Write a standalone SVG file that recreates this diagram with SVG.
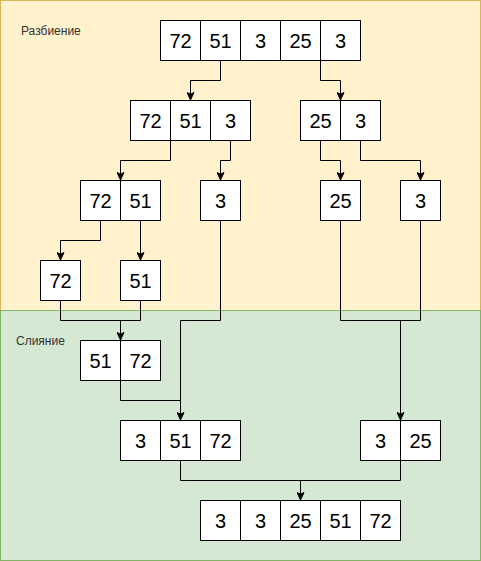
<svg xmlns="http://www.w3.org/2000/svg" width="481" height="561" viewBox="0 0 481 561">
<style>
.c{fill:#ffffff;stroke:#000000;stroke-width:1}
.t{font-family:"Liberation Sans",Arial,sans-serif;font-size:20px;fill:#000000;text-anchor:middle}
.l{font-family:"Liberation Sans",Arial,sans-serif;font-size:12px;fill:#333333}
.e{fill:none;stroke:#000000;stroke-width:1}
</style>
<defs>
<marker id="a" markerWidth="8" markerHeight="9" refX="4" refY="8" orient="0" markerUnits="userSpaceOnUse" viewBox="0 0 8 9">
<path d="M4,8 L0.5,0.5 L4,2.2 L7.5,0.5 Z" fill="#000000" stroke="#000000" stroke-width="1"/>
</marker>
</defs>
<g id="background">
<rect x="0.5" y="0.5" width="480" height="310" fill="#fff2cc" stroke="#d6b656"/>
<rect x="0.5" y="310.5" width="480" height="250" fill="#d5e8d4" stroke="#82b366"/>
<text class="l" x="21" y="35">Разбиение</text>
<text class="l" x="16" y="345">Слияние</text>
</g>
<g id="connectors">
<path class="e" d="M220.5,60 V80.5 H190.5 V100" marker-end="url(#a)"/>
<path class="e" d="M320.5,60 V80.5 H340.5 V100" marker-end="url(#a)"/>
<path class="e" d="M170.5,140 V160.5 H120.5 V180" marker-end="url(#a)"/>
<path class="e" d="M230.5,140 V160.5 H220.5 V180" marker-end="url(#a)"/>
<path class="e" d="M320.5,140 V160.5 H340.5 V180" marker-end="url(#a)"/>
<path class="e" d="M360.5,140 V160.5 H420.5 V180" marker-end="url(#a)"/>
<path class="e" d="M100.5,220 V240.5 H60.5 V260" marker-end="url(#a)"/>
<path class="e" d="M140.5,220 V260" marker-end="url(#a)"/>
<path class="e" d="M60.5,300 V320.5 H120.5 V340" marker-end="url(#a)"/>
<path class="e" d="M140.5,300 V320.5 H120.5"/>
<path class="e" d="M120.5,380 V400.5 H180.5 V420" marker-end="url(#a)"/>
<path class="e" d="M220.5,220 V320.5 H180.5 V400.5"/>
<path class="e" d="M340.5,220 V320.5 H400.5 V420" marker-end="url(#a)"/>
<path class="e" d="M420.5,220 V320.5 H400.5"/>
<path class="e" d="M180.5,460 V480.5 H300.5 V500" marker-end="url(#a)"/>
<path class="e" d="M400.5,460 V480.5 H300.5"/>
</g>
<g id="n-72-51-3-25-3">
<rect class="c" x="160.5" y="20.5" width="40" height="40"/><text class="t" x="180.5" y="48">72</text>
<rect class="c" x="200.5" y="20.5" width="40" height="40"/><text class="t" x="220.5" y="48">51</text>
<rect class="c" x="240.5" y="20.5" width="40" height="40"/><text class="t" x="260.5" y="48">3</text>
<rect class="c" x="280.5" y="20.5" width="40" height="40"/><text class="t" x="300.5" y="48">25</text>
<rect class="c" x="320.5" y="20.5" width="40" height="40"/><text class="t" x="340.5" y="48">3</text>
</g>
<g id="n-72-51-3">
<rect class="c" x="130.5" y="100.5" width="40" height="40"/><text class="t" x="150.5" y="128">72</text>
<rect class="c" x="170.5" y="100.5" width="40" height="40"/><text class="t" x="190.5" y="128">51</text>
<rect class="c" x="210.5" y="100.5" width="40" height="40"/><text class="t" x="230.5" y="128">3</text>
</g>
<g id="n-25-3">
<rect class="c" x="300.5" y="100.5" width="40" height="40"/><text class="t" x="320.5" y="128">25</text>
<rect class="c" x="340.5" y="100.5" width="40" height="40"/><text class="t" x="360.5" y="128">3</text>
</g>
<g id="n-72-51">
<rect class="c" x="80.5" y="180.5" width="40" height="40"/><text class="t" x="100.5" y="208">72</text>
<rect class="c" x="120.5" y="180.5" width="40" height="40"/><text class="t" x="140.5" y="208">51</text>
</g>
<g id="n-3a">
<rect class="c" x="200.5" y="180.5" width="40" height="40"/><text class="t" x="220.5" y="208">3</text>
</g>
<g id="n-25">
<rect class="c" x="320.5" y="180.5" width="40" height="40"/><text class="t" x="340.5" y="208">25</text>
</g>
<g id="n-3b">
<rect class="c" x="400.5" y="180.5" width="40" height="40"/><text class="t" x="420.5" y="208">3</text>
</g>
<g id="n-72">
<rect class="c" x="40.5" y="260.5" width="40" height="40"/><text class="t" x="60.5" y="288">72</text>
</g>
<g id="n-51">
<rect class="c" x="120.5" y="260.5" width="40" height="40"/><text class="t" x="140.5" y="288">51</text>
</g>
<g id="n-51-72">
<rect class="c" x="80.5" y="340.5" width="40" height="40"/><text class="t" x="100.5" y="368">51</text>
<rect class="c" x="120.5" y="340.5" width="40" height="40"/><text class="t" x="140.5" y="368">72</text>
</g>
<g id="n-3-51-72">
<rect class="c" x="120.5" y="420.5" width="40" height="40"/><text class="t" x="140.5" y="448">3</text>
<rect class="c" x="160.5" y="420.5" width="40" height="40"/><text class="t" x="180.5" y="448">51</text>
<rect class="c" x="200.5" y="420.5" width="40" height="40"/><text class="t" x="220.5" y="448">72</text>
</g>
<g id="n-3-25">
<rect class="c" x="360.5" y="420.5" width="40" height="40"/><text class="t" x="380.5" y="448">3</text>
<rect class="c" x="400.5" y="420.5" width="40" height="40"/><text class="t" x="420.5" y="448">25</text>
</g>
<g id="n-3-3-25-51-72">
<rect class="c" x="200.5" y="500.5" width="40" height="40"/><text class="t" x="220.5" y="528">3</text>
<rect class="c" x="240.5" y="500.5" width="40" height="40"/><text class="t" x="260.5" y="528">3</text>
<rect class="c" x="280.5" y="500.5" width="40" height="40"/><text class="t" x="300.5" y="528">25</text>
<rect class="c" x="320.5" y="500.5" width="40" height="40"/><text class="t" x="340.5" y="528">51</text>
<rect class="c" x="360.5" y="500.5" width="40" height="40"/><text class="t" x="380.5" y="528">72</text>
</g>
</svg>
